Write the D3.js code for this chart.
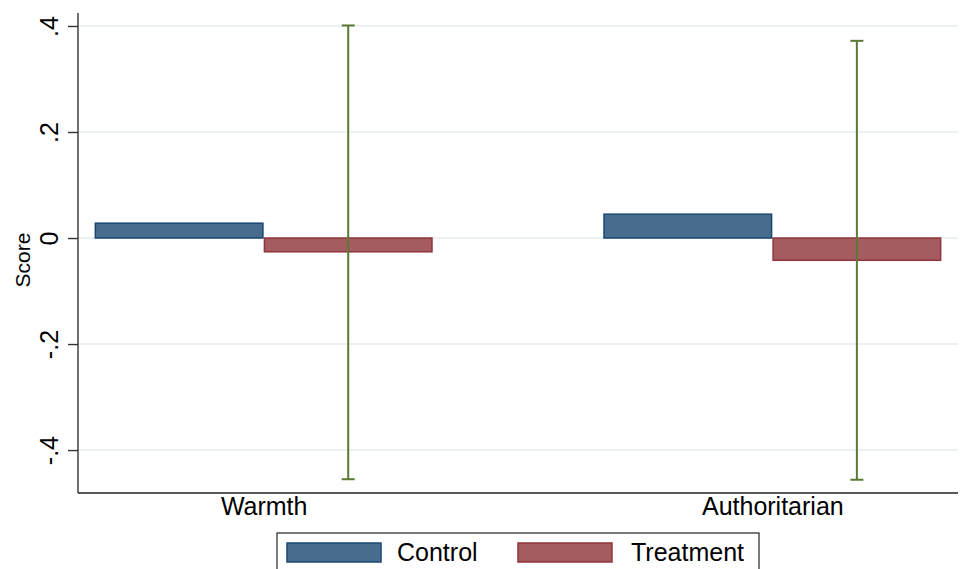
<!DOCTYPE html>
<html>
<head>
<meta charset="utf-8">
<script src="https://cdn.jsdelivr.net/npm/d3@7/dist/d3.min.js"></script>
<style>
  html, body { margin: 0; padding: 0; background: #fff; }
  svg { display: block; font-family: "Liberation Sans", Arial, sans-serif; }
</style>
</head>
<body>
<svg id="chart" width="970" height="569"></svg>
<script>
// Mean scores by outcome and group, with confidence interval of the difference
const categories = ["Warmth", "Authoritarian"];
const groups = ["Control", "Treatment"];
const controlValues = [0.028, 0.045];
const treatmentValues = [-0.026, -0.042];
const ciLow = [-0.455, -0.456];
const ciHigh = [0.401, 0.372];
const yTicks = [-0.4, -0.2, 0, 0.2, 0.4];
const yTickLabels = ["-.4", "-.2", "0", ".2", ".4"];

const colors = {
  Control: { fill: "#486c8d", stroke: "#1b476f" },
  Treatment: { fill: "#a55c60", stroke: "#90353b" }
};
const ciColor = "#5a7a34";

const svg = d3.select("#chart");
const plot = { left: 78, right: 958, top: 13, bottom: 493 };

const y = d3.scaleLinear().domain([-0.481, 0.4245]).range([plot.bottom, plot.top]);
const x = d3.scalePoint().domain(categories).range([plot.left, plot.right]).padding(0.365);
const halfGroup = x.step() * 0.3324;
const inner = d3.scaleBand().domain(groups).range([-halfGroup, halfGroup]).padding(0);

// gridlines
svg.append("g")
  .selectAll("line")
  .data(yTicks)
  .join("line")
  .attr("x1", plot.left).attr("x2", plot.right)
  .attr("y1", d => y(d)).attr("y2", d => y(d))
  .attr("stroke", "#e6eef0").attr("stroke-width", 1.6);

// bars
const rows = categories.map((c, i) => ({
  cat: c,
  vals: [
    { g: "Control", v: controlValues[i] },
    { g: "Treatment", v: treatmentValues[i] }
  ]
}));

const gGroups = svg.append("g")
  .selectAll("g")
  .data(rows)
  .join("g")
  .attr("transform", d => `translate(${x(d.cat)},0)`);

gGroups.selectAll("rect")
  .data(d => d.vals)
  .join("rect")
  .attr("x", d => inner(d.g) + 0.75)
  .attr("width", inner.bandwidth() - 1.5)
  .attr("y", d => Math.min(y(d.v), y(0)))
  .attr("height", d => Math.abs(y(d.v) - y(0)))
  .attr("fill", d => colors[d.g].fill)
  .attr("stroke", d => colors[d.g].stroke)
  .attr("stroke-width", 1.5);

// confidence intervals, centred on the treatment bar
const ci = svg.append("g")
  .selectAll("g")
  .data(categories.map((c, i) => ({ cat: c, lo: ciLow[i], hi: ciHigh[i] })))
  .join("g")
  .attr("transform", d => `translate(${x(d.cat) + inner("Treatment") + inner.bandwidth() / 2},0)`)
  .attr("stroke", ciColor).attr("stroke-width", 2).attr("fill", "none");
ci.append("line").attr("x1", 0).attr("x2", 0).attr("y1", d => y(d.lo)).attr("y2", d => y(d.hi));
ci.append("line").attr("x1", -6.5).attr("x2", 6.5).attr("y1", d => y(d.lo)).attr("y2", d => y(d.lo));
ci.append("line").attr("x1", -6.5).attr("x2", 6.5).attr("y1", d => y(d.hi)).attr("y2", d => y(d.hi));

// y axis
const yAxis = d3.axisLeft(y).tickValues(yTicks).tickSize(10).tickPadding(6)
  .tickFormat((d, i) => yTickLabels[i]);
const gy = svg.append("g").attr("transform", `translate(${plot.left},0)`).call(yAxis);
gy.select(".domain").attr("stroke", "#333").attr("stroke-width", 1.4).attr("d", `M0,${plot.top}V${plot.bottom}`);
gy.selectAll(".tick line").attr("stroke", "#333").attr("stroke-width", 1.4);
gy.selectAll(".tick text")
  .attr("font-size", 25).attr("fill", "#000")
  .attr("text-anchor", "middle")
  .attr("x", 0).attr("dy", 0)
  .attr("transform", "translate(-20,0) rotate(-90)");

// x axis
const xAxis = d3.axisBottom(x).tickSize(0).tickPadding(20);
const gx = svg.append("g").attr("transform", `translate(0,${plot.bottom})`).call(xAxis);
gx.select(".domain").attr("stroke", "#222").attr("stroke-width", 1.4).attr("d", `M${plot.left},0H${plot.right}`);
gx.selectAll(".tick text").attr("font-size", 25).attr("fill", "#000").attr("dy", 0).attr("y", 22);

// axis title
svg.append("text")
  .attr("transform", "translate(30,260) rotate(-90)")
  .attr("text-anchor", "middle")
  .attr("font-size", 21)
  .text("Score");

// legend
const legend = svg.append("g");
legend.append("rect")
  .attr("x", 277).attr("y", 533).attr("width", 482).attr("height", 50)
  .attr("fill", "#fff").attr("stroke", "#222").attr("stroke-width", 1.2);
const legendItems = [
  { g: "Control", sx: 287, tx: 397 },
  { g: "Treatment", sx: 518, tx: 631 }
];
legendItems.forEach(it => {
  legend.append("rect")
    .attr("x", it.sx).attr("y", 543).attr("width", 94).attr("height", 19)
    .attr("fill", colors[it.g].fill).attr("stroke", colors[it.g].stroke).attr("stroke-width", 1.5);
  legend.append("text")
    .attr("x", it.tx).attr("y", 561)
    .attr("font-size", 25)
    .text(it.g);
});
</script>
</body>
</html>
